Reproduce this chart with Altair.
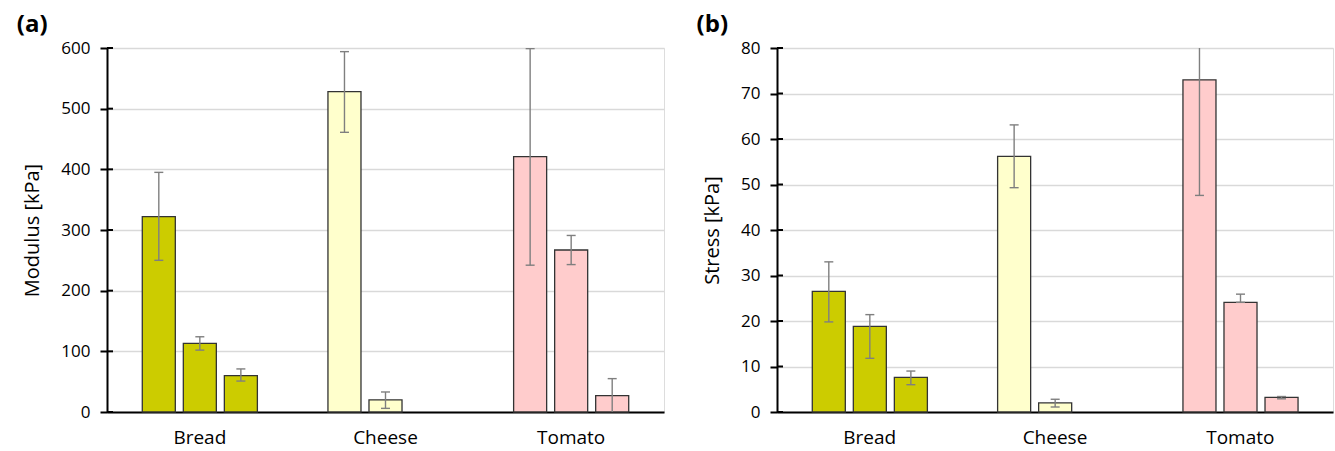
import altair as alt
import pandas as pd

# ---- data ----
categories = ["Bread", "Bread", "Bread", "Cheese", "Cheese", "Tomato", "Tomato", "Tomato"]
series = ["s1", "s2", "s3", "s1", "s2", "s1", "s2", "s3"]

modulus = [322, 113, 60, 528, 20, 421, 267, 27]
modulus_lo = [250, 102, 51, 461, 6, 242, 243, -2]
modulus_hi = [395, 124, 71, 594, 33, 599, 291, 55]

stress = [26.5, 18.8, 7.6, 56.2, 2.0, 73.0, 24.1, 3.2]
stress_lo = [19.8, 11.8, 6.0, 49.3, 1.1, 47.6, 24.1, 2.9]
stress_hi = [33.0, 21.4, 9.0, 63.1, 2.8, 98.4, 25.9, 3.4]

category_order = ["Bread", "Cheese", "Tomato"]
series_order = ["s1", "s2", "s3"]
fill_colors = ["#CCCC00", "#FFFFCC", "#FFCCCC"]

modulus_ticks = [0, 100, 200, 300, 400, 500, 600]
stress_ticks = [0, 10, 20, 30, 40, 50, 60, 70, 80]

FONT = "Open Sans"


def panel(values, lo, hi, ticks, ymax, ytitle, letter, width):
    df = pd.DataFrame({"cat": categories, "ser": series, "val": values, "lo": lo, "hi": hi})
    yscale = alt.Scale(domain=[0, ymax], nice=False, zero=True)
    x = alt.X(
        "cat:N",
        sort=category_order,
        scale=alt.Scale(domain=category_order, paddingInner=0, paddingOuter=0),
        axis=alt.Axis(
            title=None, labelAngle=0, ticks=False, domainColor="black", domainWidth=2,
            labelFontSize=19, labelPadding=16, labelColor="black", labelFont=FONT, grid=False,
        ),
    )
    xo = alt.XOffset(
        "ser:N",
        scale=alt.Scale(domain=series_order, paddingInner=0.195, paddingOuter=0.86),
    )
    yaxis = alt.Axis(
        values=ticks, title=ytitle, domainColor="black", domainWidth=2,
        tickColor="black", tickWidth=2, tickSize=7, labelFontSize=17, labelPadding=10,
        labelColor="black", labelFont=FONT, titleFont=FONT, titleFontSize=20,
        titleFontWeight="normal", titleColor="black", titlePadding=18,
        grid=True, gridColor="#d9d9d9", gridWidth=1.3,
    )
    base = alt.Chart(df)
    bars = base.mark_bar(stroke="#333333", strokeWidth=1.3).encode(
        x=x,
        xOffset=xo,
        y=alt.Y("val:Q", scale=yscale, axis=yaxis),
        fill=alt.Fill("cat:N", scale=alt.Scale(domain=category_order, range=fill_colors), legend=None),
    )
    err = base.mark_rule(color="#7f7f7f", strokeWidth=1.4, clip=True).encode(
        x=x, xOffset=xo, y=alt.Y("lo:Q", scale=yscale), y2="hi:Q"
    )
    cap_hi = base.mark_tick(color="#7f7f7f", thickness=1.4, size=9, opacity=1, clip=True).encode(
        x=x, xOffset=xo, y=alt.Y("hi:Q", scale=yscale)
    )
    cap_lo = base.mark_tick(color="#7f7f7f", thickness=1.4, size=9, opacity=1, clip=True).encode(
        x=x, xOffset=xo, y=alt.Y("lo:Q", scale=yscale)
    )
    inner = alt.Chart(pd.DataFrame({"t": ticks})).mark_rule(color="black", strokeWidth=2).encode(
        y=alt.Y("t:Q", scale=yscale), x=alt.value(0), x2=alt.value(6)
    )
    return alt.layer(bars, err, cap_hi, cap_lo, inner).properties(
        width=width,
        height=364,
        title=alt.TitleParams(
            text=letter, anchor="start", frame="bounds", dx=-6, fontSize=24, fontWeight="bold",
            font=FONT, color="black", offset=2,
        ),
    )


left = panel(modulus, modulus_lo, modulus_hi, modulus_ticks, 600, "Modulus [kPa]", "(a)", 557)
right = panel(stress, stress_lo, stress_hi, stress_ticks, 80, "Stress [kPa]", "(b)", 556)

chart = (
    alt.hconcat(left, right, spacing=31)
    .resolve_scale(y="independent", x="independent", fill="independent")
    .properties(padding={"left": 16, "top": 12, "right": 0, "bottom": 0})
    .configure_view(stroke=None)
    .configure(background="white")
)

chart.save("out.html", embed_options={"renderer": "svg", "actions": False})
